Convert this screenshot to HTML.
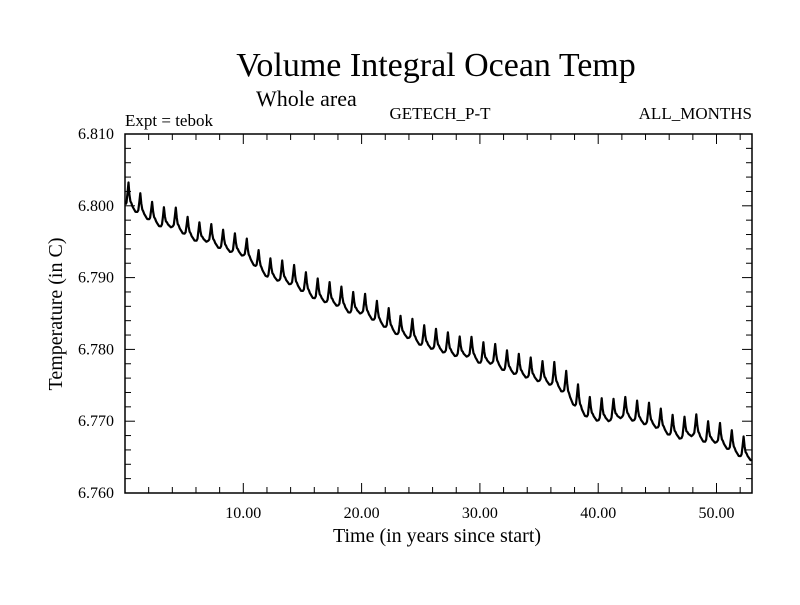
<!DOCTYPE html>
<html><head><meta charset="utf-8"><style>
body{margin:0;background:#fff}
svg text{font-family:"Liberation Serif",serif;fill:#000}
</style></head><body>
<svg id="chart" width="800" height="600" xmlns="http://www.w3.org/2000/svg">
<text x="436" y="76" font-size="34" text-anchor="middle">Volume Integral Ocean Temp</text>
<text x="256" y="106" font-size="22">Whole area</text>
<text x="125" y="126" font-size="17">Expt = tebok</text>
<text x="440" y="119" font-size="17" text-anchor="middle">GETECH_P-T</text>
<text x="752" y="119" font-size="17" text-anchor="end">ALL_MONTHS</text>
<text x="437" y="542" font-size="20" text-anchor="middle">Time (in years since start)</text>
<text transform="translate(62,314) rotate(-90)" font-size="20" text-anchor="middle">Temperature (in C)</text>
<g id="axes"></g>
<path id="series" fill="none" stroke="#000" stroke-width="2.2" stroke-linejoin="round"/>
</svg>
<script>
const yearBase=[6.800,6.799,6.798,6.797,6.797,6.796,6.795,6.795,6.794,6.7935,6.793,6.7915,6.790,6.7895,6.789,6.788,6.787,6.7865,6.786,6.785,6.785,6.784,6.783,6.782,6.7815,6.7805,6.780,6.7795,6.779,6.779,6.778,6.778,6.777,6.7765,6.776,6.7755,6.775,6.774,6.772,6.7705,6.770,6.770,6.7705,6.770,6.7695,6.769,6.768,6.7675,6.768,6.767,6.767,6.766,6.765,6.7645];
const yearAmp=[0.0035,0.003,0.0028,0.0028,0.003,0.0027,0.0027,0.0027,0.0028,0.0028,0.0028,0.0027,0.0028,0.003,0.003,0.003,0.003,0.003,0.003,0.003,0.003,0.003,0.003,0.0028,0.003,0.003,0.003,0.003,0.0028,0.003,0.003,0.003,0.003,0.003,0.003,0.003,0.0035,0.0035,0.0035,0.003,0.0032,0.003,0.003,0.003,0.0032,0.003,0.003,0.003,0.0032,0.003,0.003,0.003,0.003];
const seasonShape=[0.05,0.15,0.55,1.0,0.55,0.3,0.25,0.15,0.1,0.05,0,0.02];
const xTicks=[10,20,30,40,50];
const xTickLabels=["10.00","20.00","30.00","40.00","50.00"];
const yTicks=[6.760,6.770,6.780,6.790,6.800,6.810];
const yTickLabels=["6.760","6.770","6.780","6.790","6.800","6.810"];
const L=125,R=752,T=134,B=493,xMin=0,xMax=53,yMin=6.760,yMax=6.810;
const X=v=>L+(v-xMin)/(xMax-xMin)*(R-L);
const Y=v=>B-(v-yMin)/(yMax-yMin)*(B-T);
const NS="http://www.w3.org/2000/svg";
const ax=document.getElementById('axes');
function mk(tag,at){const e=document.createElementNS(NS,tag);for(const k in at)e.setAttribute(k,at[k]);ax.appendChild(e);return e;}
const fr=mk('rect',{x:L,y:T,width:R-L,height:B-T,fill:'none',stroke:'#000','stroke-width':1.5});


for(let v=2;v<xMax;v+=2){const len=v%10===0?10:6;
 mk('line',{x1:X(v),x2:X(v),y1:B,y2:B-len,stroke:'#000','stroke-width':1});
 mk('line',{x1:X(v),x2:X(v),y1:T,y2:T+len,stroke:'#000','stroke-width':1});}
for(let i=1;i<25;i++){const v=yMin+i*0.002;const len=i%5===0?10:6;
 mk('line',{x1:L,x2:L+len,y1:Y(v),y2:Y(v),stroke:'#000','stroke-width':1});
 mk('line',{x1:R,x2:R-len,y1:Y(v),y2:Y(v),stroke:'#000','stroke-width':1});}
xTicks.forEach((v,i)=>{const t=mk('text',{x:X(v),y:B+25,'font-size':16,'text-anchor':'middle'});t.textContent=xTickLabels[i];
 
 });
yTicks.forEach((v,i)=>{const t=mk('text',{x:L-11,y:Y(v)+5,'font-size':16,'text-anchor':'end'});t.textContent=yTickLabels[i];
 
 });
let d='';
for(let y=0;y<yearAmp.length;y++){seasonShape.forEach((s,m)=>{const t=y+(m+0.5)/12;if(t>xMax)return;
 const b=yearBase[y]+(yearBase[y+1]-yearBase[y])*m/12;
 const v=b+yearAmp[y]*s;d+=(d?'L':'M')+X(t).toFixed(1)+','+Y(v).toFixed(1);});}
document.getElementById('series').setAttribute('d',d);
</script>
</body></html>
